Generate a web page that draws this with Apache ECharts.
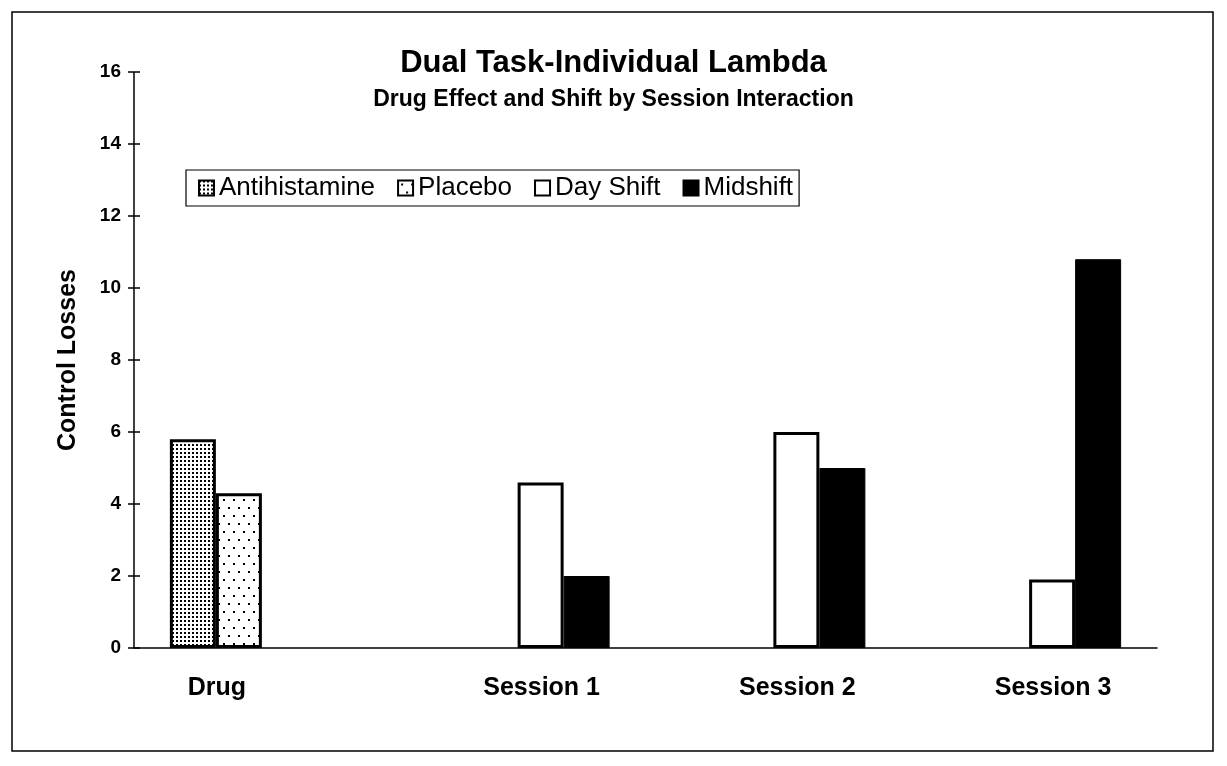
<!DOCTYPE html>
<html>
<head>
<meta charset="utf-8">
<script src="https://cdn.jsdelivr.net/npm/echarts@6/dist/echarts.min.js"></script>
<style>
  html, body { margin: 0; padding: 0; background: #fff; }
  #chart { width: 1227px; height: 766px; }
</style>
</head>
<body>
<div id="chart"></div>
<script>
// data
var categories = ['Drug', 'Session 1', 'Session 2', 'Session 3'];
var antihistamine = [5.8, '-', '-', '-'];
var placebo = [4.3, '-', '-', '-'];
var dayShift = ['-', 4.6, 6.0, 1.9];
var midshift = ['-', 2.0, 5.0, 10.8];
var seriesNames = ['Antihistamine', 'Placebo', 'Day Shift', 'Midshift'];

// dotted fills like the old print patterns
function dotPattern(w, h, dots, size) {
  var c = document.createElement('canvas');
  c.width = w; c.height = h;
  var ctx = c.getContext('2d');
  ctx.fillStyle = '#fff';
  ctx.fillRect(0, 0, w, h);
  ctx.fillStyle = '#000';
  dots.forEach(function (d) { ctx.fillRect(d[0], d[1], size, size); });
  return c;
}
var densePat = dotPattern(4, 4, [[0, 0]], 2);
var sparsePat = dotPattern(10, 16, [[3, 3], [8, 11]], 2);

var chart = echarts.init(document.getElementById('chart'));
var font = 'Liberation Sans, Arial, Helvetica, sans-serif';

var option = {
  backgroundColor: '#fff',
  animation: false,
  graphic: [{
    type: 'rect',
    shape: { x: 12, y: 12, width: 1201, height: 739 },
    style: { fill: 'none', stroke: '#000', lineWidth: 1.5 }
  }],
  title: {
    text: 'Dual Task-Individual Lambda',
    subtext: 'Drug Effect and Shift by Session Interaction',
    left: 'center',
    top: 48,
    padding: 0,
    itemGap: 9,
    textStyle: { fontFamily: font, fontWeight: 'bold', fontSize: 31, color: '#000' },
    subtextStyle: { fontFamily: font, fontWeight: 'bold', fontSize: 23, color: '#000' }
  },
  legend: {
    data: seriesNames,
    left: 186,
    top: 170,
    orient: 'horizontal',
    icon: 'rect',
    itemWidth: 15,
    itemHeight: 15,
    itemGap: 22,
    padding: [5, 6, 5, 12],
    borderColor: '#000',
    borderWidth: 1.2,
    textStyle: { fontFamily: font, fontSize: 26, color: '#000' }
  },
  grid: { left: 134, right: 70, top: 72, bottom: 118 },
  xAxis: {
    type: 'category',
    data: categories,
    axisLine: { lineStyle: { color: '#000', width: 1.5 } },
    axisTick: { show: false },
    // the first boundary line doubles as the vertical axis line, the closing one is hidden
    splitLine: {
      show: true,
      interval: function (i) { return i === 0; },
      lineStyle: { color: ['#000', 'rgba(0,0,0,0)'], width: 1.5, type: 'solid' }
    },
    axisLabel: {
      margin: 28,
      interval: 0,
      formatter: function (v, i) {
        return i === 0 ? '{d|' + v + '}' : '{s|' + v + '}';
      },
      rich: {
        d: { fontFamily: font, fontWeight: 'bold', fontSize: 25, color: '#000', padding: [0, 90, 0, 0] },
        s: { fontFamily: font, fontWeight: 'bold', fontSize: 25, color: '#000', padding: [0, 0, 0, 48] }
      }
    }
  },
  yAxis: {
    type: 'value',
    min: 0,
    max: 16,
    interval: 2,
    offset: -6,
    name: 'Control Losses',
    nameLocation: 'middle',
    nameGap: 59,
    nameTextStyle: { fontFamily: font, fontWeight: 'bold', fontSize: 25, color: '#000' },
    axisLine: { show: false },
    axisTick: { show: true, length: 12, lineStyle: { color: '#000', width: 1.5 } },
    axisLabel: { margin: 19, fontFamily: font, fontWeight: 'bold', fontSize: 19, color: '#000' },
    splitLine: { show: false }
  },
  series: [{
    name: seriesNames[0],
    type: 'bar',
    barWidth: 46,
    barGap: '0%',
    data: antihistamine,
    itemStyle: { color: { image: densePat, repeat: 'repeat' }, borderColor: '#000', borderWidth: 3 }
  }, {
    name: seriesNames[1],
    type: 'bar',
    barWidth: 46,
    barGap: '0%',
    data: placebo,
    itemStyle: { color: { image: sparsePat, repeat: 'repeat' }, borderColor: '#000', borderWidth: 3 }
  }, {
    name: seriesNames[2],
    type: 'bar',
    barWidth: 46,
    barGap: '0%',
    data: dayShift,
    itemStyle: { color: '#fff', borderColor: '#000', borderWidth: 3 }
  }, {
    name: seriesNames[3],
    type: 'bar',
    barWidth: 46,
    barGap: '0%',
    data: midshift,
    itemStyle: { color: '#000', borderColor: '#000', borderWidth: 1 }
  }]
};

chart.setOption(option);
</script>
</body>
</html>
